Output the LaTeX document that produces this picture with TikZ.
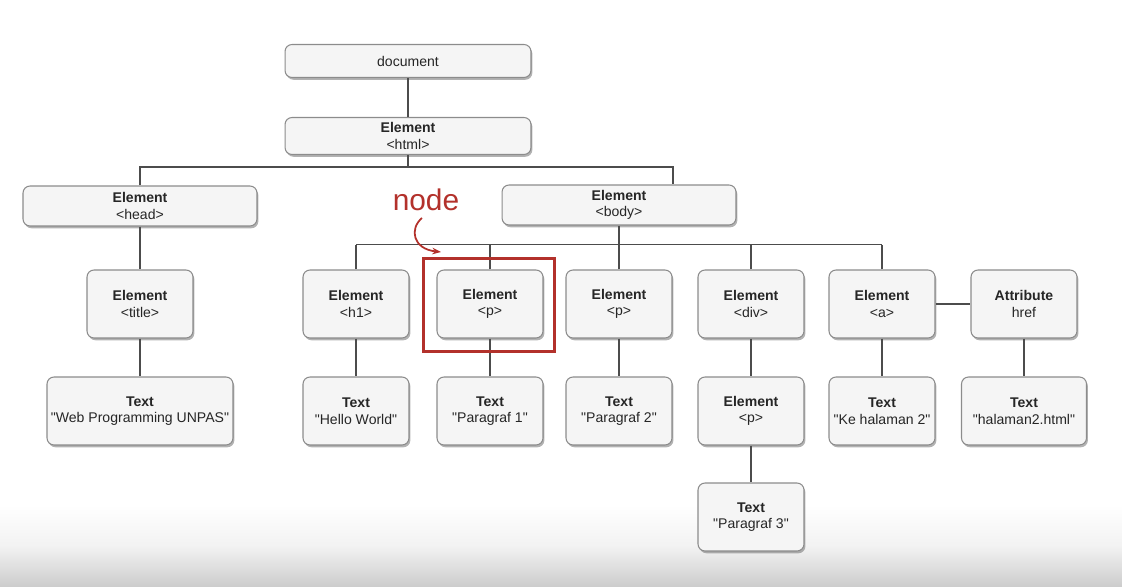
\documentclass[tikz,border=0pt]{standalone}
\usepackage{fontspec}
\setmainfont{Liberation Sans}[Ligatures=TeXOff]
\usetikzlibrary{shadows,arrows.meta}
\definecolor{annot}{HTML}{B3312B}

\begin{document}
\begin{tikzpicture}[x=0.02cm,y=-0.02cm]
	\tikzstyle{every node}+=[inner sep=0pt, font=\fontsize{8}{9.5}\selectfont, text=black!85]
	\tikzstyle{dombox}=[draw=black!45, line width=0.6pt, fill=black!4, rounded corners=4pt, align=center, minimum width=2.12cm, minimum height=1.36cm, drop shadow={shadow xshift=0.8pt, shadow yshift=-1.3pt, fill=black!60}]
	\tikzstyle{widebox}=[dombox, minimum width=4.68cm, minimum height=0.8cm]
	\tikzstyle{wire}=[draw=black!70, line width=0.8pt]
	\useasboundingbox (0,0) rectangle (1122,587);
	\shade[top color=white, bottom color=black!20, middle color=black!5] (0,505) rectangle (1122,587);
	% top of the tree
	\node[dombox, minimum width=4.92cm, minimum height=0.66cm] (doc) at (408,61) {document};
	\node[dombox, minimum width=4.92cm, minimum height=0.74cm] (html) at (408,136) {\textbf{Element}\\<html>};
	\node[widebox] (head) at (140,206) {\textbf{Element}\\<head>};
	\node[widebox] (body) at (619,205) {\textbf{Element}\\<body>};
	% elements
	\node[dombox] (title) at (140,304) {\textbf{Element}\\<title>};
	\node[dombox] (h1) at (356,304) {\textbf{Element}\\<h1>};
	\node[dombox] (p1) at (490,304) {\textbf{Element}\\<p>};
	\node[dombox] (p2) at (619,304) {\textbf{Element}\\<p>};
	\node[dombox] (div) at (751,304) {\textbf{Element}\\<div>};
	\node[dombox] (a) at (882,304) {\textbf{Element}\\<a>};
	\node[dombox] (attr) at (1024,304) {\textbf{Attribute}\\href};
	% text nodes
	\node[dombox, minimum width=3.72cm] (webtext) at (140,411) {\textbf{Text}\\"Web Programming UNPAS"};
	\node[dombox] (hello) at (356,411) {\textbf{Text}\\"Hello World"};
	\node[dombox] (par1) at (490,411) {\textbf{Text}\\"Paragraf 1"};
	\node[dombox] (par2) at (619,411) {\textbf{Text}\\"Paragraf 2"};
	\node[dombox] (divp) at (751,411) {\textbf{Element}\\<p>};
	\node[dombox] (ketext) at (882,411) {\textbf{Text}\\"Ke halaman 2"};
	\node[dombox, minimum width=2.5cm] (hreftext) at (1024,411) {\textbf{Text}\\"halaman2.html"};
	\node[dombox] (par3) at (751,517) {\textbf{Text}\\"Paragraf 3"};
	% connectors
	\draw[wire] (doc) -- (html);
	\draw[wire] (html.south) -- ++(0,12) coordinate (hbus);
	\draw[wire] (head.north) |- (hbus) -| ([xshift=1.08cm]body.north);
	\draw[wire] (body.south) -- ++(0,19) coordinate (bbus);
	\draw[wire] (h1.north |- bbus) -- (a.north |- bbus);
	\foreach \n in {h1,p1,p2,div,a}
		\draw[wire] (\n.north) -- (\n.north |- bbus);
	\foreach \u/\v in {head/title,title/webtext,h1/hello,p1/par1,p2/par2,div/divp,divp/par3,a/ketext,attr/hreftext,a/attr}
		\draw[wire] (\u) -- (\v);
	% red note
	\node[text=annot, font=\fontsize{17}{17}\selectfont] (nodelbl) at (426,200) {node};
	\coordinate (arrowstart) at (422,218);
	\coordinate (arrowend) at (441,252);
	\draw[annot, line width=1pt, -{Stealth[length=5pt]}] (arrowstart) .. controls (409,229) and (413,249) .. (arrowend);
	\draw[annot, line width=1.8pt] ([shift={(-13,-11)}]p1.north west) rectangle ([shift={(11,13)}]p1.south east);
\end{tikzpicture}
\end{document}
